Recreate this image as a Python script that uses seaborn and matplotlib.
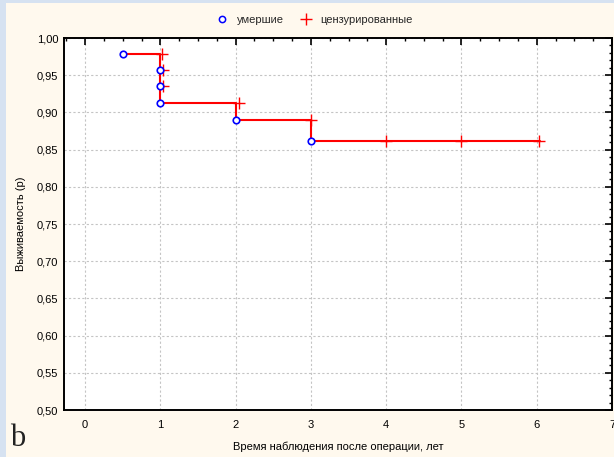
import numpy as np
import pandas as pd
import matplotlib
matplotlib.use("Agg")
import matplotlib.pyplot as plt
import seaborn as sns
from matplotlib.ticker import MultipleLocator, FuncFormatter
from matplotlib.lines import Line2D
from matplotlib.patches import Rectangle

# Kaplan-Meier estimate: deaths (open circles) and censored observations (+)
death_t = [0.5, 1.0, 1.0, 1.0, 2.0, 3.0]
death_s = [0.978, 0.957, 0.935, 0.913, 0.890, 0.862]
cens_t = [1.02, 1.03, 1.03, 2.04, 3.0, 4.0, 5.0, 6.03]
cens_s = [0.978, 0.957, 0.935, 0.913, 0.890, 0.862, 0.862, 0.862]
end_t = 6.05

x_ticks = [0, 1, 2, 3, 4, 5, 6, 7]
y_ticks = [0.50, 0.55, 0.60, 0.65, 0.70, 0.75, 0.80, 0.85, 0.90, 0.95, 1.00]

legend_labels = ["умершие", "цензурированные"]
x_label = "Время наблюдения после операции, лет"
y_label = "Выживаемость (p)"
panel_label = "b"

sns.set_theme(style="white")
plt.rcParams["font.family"] = ["Liberation Sans", "DejaVu Sans"]

W, H = 614, 457
fig = plt.figure(figsize=(W / 100, H / 100), dpi=100)
fig.patch.set_facecolor("#FFF9EE")
# pale blue frame strips on the left and top edges
fig.add_artist(Rectangle((0, 0), 6 / W, 1, transform=fig.transFigure,
                         facecolor="#D6E2F1", edgecolor="none", zorder=0))
fig.add_artist(Rectangle((0, 1 - 3 / H), 1, 3 / H, transform=fig.transFigure,
                         facecolor="#D6E2F1", edgecolor="none", zorder=0))

ax = fig.add_axes([64 / W, 1 - 410 / H, (612 - 64) / W, (410 - 38) / H])
ax.set_facecolor("white")

curve = pd.DataFrame({"t": death_t + [end_t], "s": death_s + [death_s[-1]]})
sns.lineplot(data=curve, x="t", y="s", ax=ax, estimator=None, sort=False,
             drawstyle="steps-post", color="#FF0000", linewidth=1.5, zorder=3)

deaths = pd.DataFrame({"t": death_t, "s": death_s})
cens = pd.DataFrame({"t": cens_t, "s": cens_s})
sns.scatterplot(data=cens, x="t", y="s", ax=ax, marker="+", s=70,
                color="#FF0000", linewidth=1.0, zorder=4)
sns.scatterplot(data=deaths, x="t", y="s", ax=ax, marker="o", s=22,
                facecolor="white", edgecolor="#0000FF", linewidth=1.2, zorder=5)

ax.set_xlim(-0.28, 7.0)
ax.set_ylim(0.5, 1.0)
ax.set_xticks(x_ticks)
ax.set_yticks(y_ticks)
ax.xaxis.set_minor_locator(MultipleLocator(0.25))
ax.yaxis.set_minor_locator(MultipleLocator(0.01))
ax.yaxis.set_major_formatter(FuncFormatter(lambda v, p: f"{v:.2f}".replace(".", ",")))
ax.tick_params(which="major", direction="in", length=5, width=1.2, color="black",
               top=True, right=True, labelsize=8, pad=7, labelcolor="black")
ax.tick_params(which="minor", direction="in", length=2.5, width=1.0, color="black",
               top=True, right=True)
ax.tick_params(axis="y", which="major", pad=4)
ax.grid(True, which="major", color="#C4C4C4", linestyle=(0, (2, 2)), linewidth=0.8)
ax.set_axisbelow(True)
for sp in ax.spines.values():
    sp.set_color("black")
    sp.set_linewidth(1.4)

ax.set_xlabel(x_label, fontsize=8, color="black", va="center")
ax.xaxis.set_label_coords(0.5, -(447 - 410) / (410 - 38))
ax.set_ylabel(y_label, fontsize=8, labelpad=8, color="black")

handles = [
    Line2D([], [], marker="o", linestyle="none", markersize=4.5,
           markerfacecolor="white", markeredgecolor="#0000FF", markeredgewidth=1.1),
    Line2D([], [], marker="+", linestyle="none", markersize=8,
           markeredgecolor="#FF0000", markeredgewidth=1.0),
]
fig.legend(handles, legend_labels, loc="center", ncol=2, frameon=False,
           bbox_to_anchor=(312 / W, 1 - 20 / H), fontsize=8,
           handletextpad=0.3, columnspacing=1.0)

fig.text(10 / W, 1 - 438 / H, panel_label, family="Liberation Serif",
         fontsize=22, va="center", ha="left", color="#222222")

fig.savefig("out.png", dpi=100, facecolor=fig.get_facecolor())
